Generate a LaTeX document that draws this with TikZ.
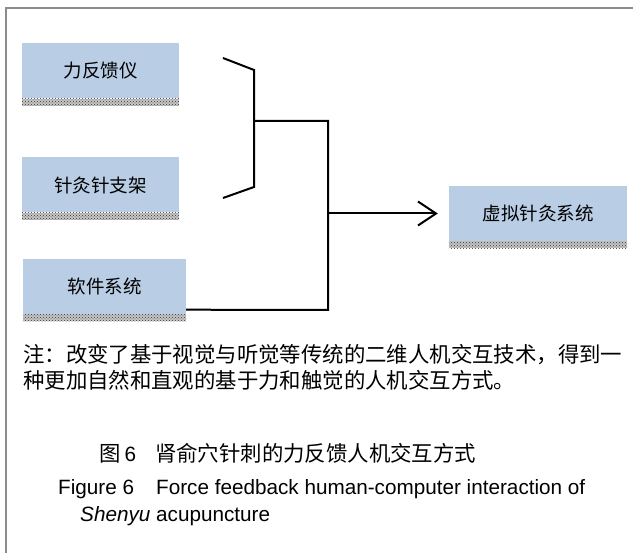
\documentclass[tikz,border=0pt]{standalone}
\usepackage{fontspec}
\setmainfont{Liberation Sans}
\newfontfamily\cjk{Noto Sans CJK SC}
\usetikzlibrary{arrows.meta,patterns}
\definecolor{boxblue}{HTML}{B9CDE5}
\definecolor{framegray}{HTML}{8C8C8C}

\begin{document}
\begin{tikzpicture}[x=1pt,y=-1pt,
  box/.style={fill=boxblue,inner sep=0pt,minimum width=157pt,minimum height=55pt,
    font=\cjk\fontsize{18.5}{18.5}\selectfont},
  strip/.style={fill=gray!45,postaction={pattern=crosshatch dots,pattern color=gray!40!black}},
  wire/.style={line width=2pt,black},
  note/.style={anchor=west,inner sep=0pt,font=\cjk\fontsize{21.4}{21.4}\selectfont},
  caption/.style={anchor=west,inner sep=0pt,font=\fontsize{20.7}{20.7}\selectfont}]
\useasboundingbox (0,0) rectangle (633,553);
% frame, only top and left edges show
\draw [framegray,line width=2pt] (6,553) -- (6,8) -- (633,8);
% blocks
\node [box] (fkyi) at (100.5,71) {力反馈仪};
\node [box] (zjzj) at (100.5,185) {针灸针支架};
\node [box,minimum width=163pt] (rjxt) at (104.5,286.5) {软件系统};
\node [box,minimum width=178pt] (xnzj) at (538,213.5) {虚拟针灸系统};
\foreach \b in {fkyi,zjzj,rjxt,xnzj}
  \path [strip] (\b.south west) rectangle ([yshift=-7pt]\b.south east);
% bracket
\coordinate (brtop) at (223,58);
\coordinate (brbot) at (223,198);
\coordinate (brmid) at (254,121);
\coordinate (bus) at (328,121);
\draw [wire] (brtop) -- (254,70) -- (254,187) -- (brbot);
\draw [wire] (brmid) -- (bus) -- (bus |- 0,310) -- ([yshift=4.5pt]rjxt.south east);
\draw [wire,-{Straight Barb[length=18pt,width=24pt,line width=2pt]}]
  (bus |- xnzj.west) -- ([xshift=-11pt]xnzj.west);
% note and caption
\node [note] (note1) at (23,355) {注：改变了基于视觉与听觉等传统的二维人机交互技术，得到一};
\node [note] (note2) at (23,380) {种更加自然和直观的基于力和触觉的人机交互方式。};
\node [caption] (capzh) at (99,453) {{\cjk\fontsize{21.4}{21.4}\selectfont 图}\hspace{4pt}6\hspace{19pt}{\cjk\fontsize{21.4}{21.4}\selectfont 肾俞穴针刺的力反馈人机交互方式}};
\node [caption] (capen) at (58,489) {Figure 6\hspace{22pt}Force feedback human-computer interaction of};
\node [caption] (capen2) at (80,516) {\textit{Shenyu} acupuncture};
\end{tikzpicture}
\end{document}
